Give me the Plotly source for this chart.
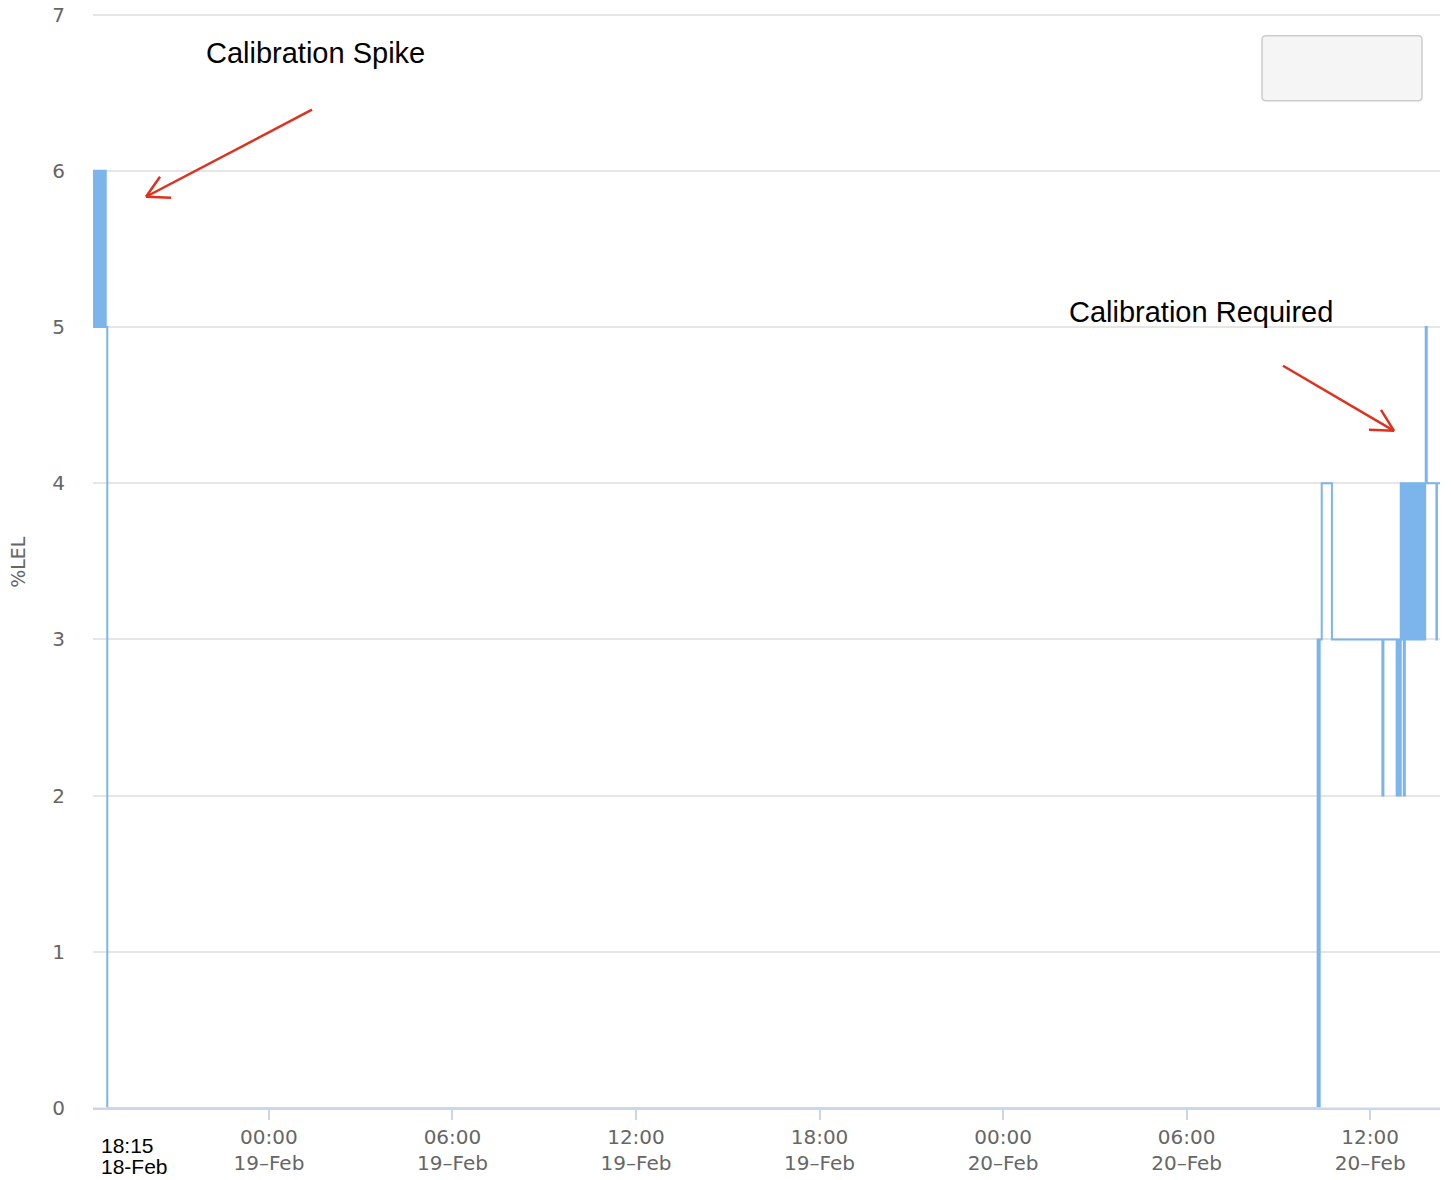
import plotly.graph_objects as go

# ---- data ----
lel_times = [
    "2024-02-18 18:15", "2024-02-18 18:16", "2024-02-18 18:17", "2024-02-18 18:18",
    "2024-02-18 18:19", "2024-02-18 18:20", "2024-02-18 18:21", "2024-02-18 18:22",
    "2024-02-18 18:23", "2024-02-18 18:24", "2024-02-18 18:25", "2024-02-18 18:26",
    "2024-02-18 18:27", "2024-02-18 18:28", "2024-02-18 18:29", "2024-02-18 18:30",
    "2024-02-18 18:31", "2024-02-18 18:32", "2024-02-18 18:33", "2024-02-18 18:34",
    "2024-02-18 18:35", "2024-02-18 18:36", "2024-02-18 18:37", "2024-02-18 18:38",
    "2024-02-18 18:40", "2024-02-18 18:43",
    "2024-02-20 10:16", "2024-02-20 10:17", "2024-02-20 10:18", "2024-02-20 10:19",
    "2024-02-20 10:20", "2024-02-20 10:21", "2024-02-20 10:25", "2024-02-20 10:44",
    "2024-02-20 10:45", "2024-02-20 12:24", "2024-02-20 12:26", "2024-02-20 12:52",
    "2024-02-20 12:54", "2024-02-20 12:58", "2024-02-20 13:00", "2024-02-20 13:02",
    "2024-02-20 13:04", "2024-02-20 13:06", "2024-02-20 13:08", "2024-02-20 13:10",
    "2024-02-20 13:12", "2024-02-20 13:14", "2024-02-20 13:16", "2024-02-20 13:18",
    "2024-02-20 13:20", "2024-02-20 13:22", "2024-02-20 13:24", "2024-02-20 13:26",
    "2024-02-20 13:28", "2024-02-20 13:30", "2024-02-20 13:32", "2024-02-20 13:34",
    "2024-02-20 13:36", "2024-02-20 13:38", "2024-02-20 13:40", "2024-02-20 13:42",
    "2024-02-20 13:44", "2024-02-20 13:46", "2024-02-20 13:48", "2024-02-20 13:49",
    "2024-02-20 13:51", "2024-02-20 14:10", "2024-02-20 14:11", "2024-02-20 14:20",
]
lel_values = [
    5, 6, 5, 6,
    5, 6, 5, 6,
    5, 6, 5, 6,
    5, 6, 5, 6,
    5, 6, 5, 6,
    5, 6, 5, 6,
    5, 0,
    0, 3, 0, 3,
    0, 3, 4, 4,
    3, 2, 3, 2,
    3, 2, 4, 3,
    4, 2, 4, 3,
    4, 3, 4, 3,
    4, 3, 4, 3,
    4, 3, 4, 3,
    4, 3, 4, 3,
    4, 3, 4, 5,
    4, 3, 4, 4,
]

zero_times = ["2024-02-18 18:15", "2024-02-20 14:20"]
zero_values = [0, 0]

tick_vals = ["2024-02-19 00:00", "2024-02-19 06:00", "2024-02-19 12:00", "2024-02-19 18:00",
             "2024-02-20 00:00", "2024-02-20 06:00", "2024-02-20 12:00"]
tick_text = ["00:00<br>19\u2013Feb", "06:00<br>19\u2013Feb", "12:00<br>19\u2013Feb", "18:00<br>19\u2013Feb",
             "00:00<br>20\u2013Feb", "06:00<br>20\u2013Feb", "12:00<br>20\u2013Feb"]
x_start = "2024-02-18 18:15"
x_end = "2024-02-20 14:17"
y_ticks = [0, 1, 2, 3, 4, 5, 6, 7]
y_max = 7.03

# ---- layout helpers (reference pixel -> paper); body margin removed below ----
W, H = 1451, 1180
UNIT = (1108 - 15) / 7.0          # reference pixels per %LEL unit
TOP_PX = 15 - (y_max - 7) * UNIT  # reference pixel of the plot top
L, T = 93, TOP_PX
R = W - 1440
B = H - 1108
PW, PH = W - L - R, H - T - B


def px(x):
    return (x - L) / PW


def py(y):
    return (H - B - y) / PH


fig = go.Figure()
fig.add_trace(go.Scatter(x=lel_times, y=lel_values, mode="lines", line_shape="hv",
                         line=dict(color="#7cb5ec", width=2), showlegend=False))
fig.add_trace(go.Scatter(x=zero_times, y=zero_values, mode="lines",
                         line=dict(color="#d3f2c8", width=1.5), showlegend=False))

fig.update_layout(
    width=W, height=H,
    margin=dict(l=L, r=R, t=T, b=B, autoexpand=False),
    plot_bgcolor="white", paper_bgcolor="white",
    showlegend=False,
    font=dict(family="DejaVu Sans", color="#666666", size=20),
)
fig.update_xaxes(
    type="date", range=[x_start, x_end], automargin=False,
    tickmode="array", tickvals=tick_vals, ticktext=tick_text,
    showgrid=False, zeroline=False,
    showline=True, linecolor="#ccd6eb", linewidth=2,
    ticks="outside", ticklen=10, tickwidth=1.5, tickcolor="#ccd6eb",
    tickfont=dict(family="DejaVu Sans", size=20, color="#666666"),
)
fig.update_yaxes(
    range=[0, y_max], tickmode="array", tickvals=y_ticks,
    automargin=False,
    showgrid=True, gridcolor="#e6e6e6", gridwidth=2,
    zeroline=False, showline=False, ticks="",
    ticklabelstandoff=27,
    tickfont=dict(family="DejaVu Sans", size=20, color="#666666"),
)

# y-axis title
fig.add_annotation(xref="paper", yref="paper", x=px(18), y=py(562),
                   text="%LEL", showarrow=False, textangle=-90, xanchor="center", yanchor="middle",
                   font=dict(family="DejaVu Sans", size=19, color="#666666"))

# first-tick label
fig.add_annotation(xref="paper", yref="paper", x=px(99), y=py(1145),
                   text="18:15", showarrow=False, xanchor="left", yanchor="middle",
                   font=dict(family="Liberation Sans", size=21, color="black"))
fig.add_annotation(xref="paper", yref="paper", x=px(99), y=py(1166),
                   text="18-Feb", showarrow=False, xanchor="left", yanchor="middle",
                   font=dict(family="Liberation Sans", size=21, color="black"))

# callout texts
fig.add_annotation(xref="paper", yref="paper", x=px(204), y=py(53),
                   text="Calibration Spike", showarrow=False, xanchor="left", yanchor="middle",
                   font=dict(family="Liberation Sans", size=29, color="black"))
fig.add_annotation(xref="paper", yref="paper", x=px(1067), y=py(312),
                   text="Calibration Required", showarrow=False, xanchor="left", yanchor="middle",
                   font=dict(family="Liberation Sans", size=29, color="black"))

red = "#e0301e"
arrows = [
    ((312, 110), (146, 197), (160, 177), (171, 198)),
    ((1283, 366), (1394, 431), (1381, 410), (1369, 430)),
]
for (s, tip, h1, h2) in arrows:
    for a in (s, h1, h2):
        fig.add_shape(type="line", xref="paper", yref="paper",
                      x0=px(a[0]), y0=py(a[1]), x1=px(tip[0]), y1=py(tip[1]),
                      line=dict(color=red, width=2.5))

# empty legend box with rounded corners
x0, x1, y0, y1, r = 1262, 1422, 36, 101, 4
path = (f"M {px(x0 + r)} {py(y0)} L {px(x1 - r)} {py(y0)} "
        f"Q {px(x1)} {py(y0)} {px(x1)} {py(y0 + r)} L {px(x1)} {py(y1 - r)} "
        f"Q {px(x1)} {py(y1)} {px(x1 - r)} {py(y1)} L {px(x0 + r)} {py(y1)} "
        f"Q {px(x0)} {py(y1)} {px(x0)} {py(y1 - r)} L {px(x0)} {py(y0 + r)} "
        f"Q {px(x0)} {py(y0)} {px(x0 + r)} {py(y0)} Z")
fig.add_shape(type="path", xref="paper", yref="paper", path=path,
              fillcolor="#f5f5f5", line=dict(color="#cccccc", width=1.5))

fig.write_html("out.html", config={"displayModeBar": False},
               post_script="document.body.style.margin='0';document.body.style.overflow='hidden';")
